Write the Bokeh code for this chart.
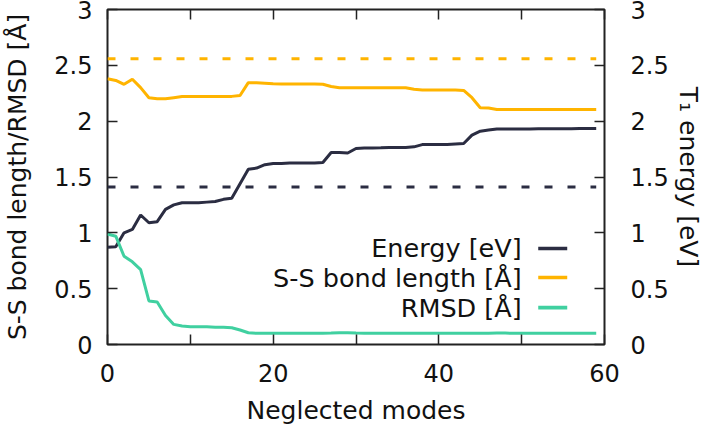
from bokeh.plotting import figure
from bokeh.models import (Range1d, LinearAxis, FixedTicker, Label, BoxAnnotation,
                          NumeralTickFormatter, CustomJSTickFormatter)
from bokeh.embed import file_html
from bokeh.resources import INLINE

modes = list(range(60))
energy = [0.87, 0.875, 1.00, 1.03, 1.16, 1.09, 1.10, 1.21, 1.25, 1.27,
          1.27, 1.27, 1.275, 1.28, 1.30, 1.31, 1.44, 1.57, 1.58, 1.61,
          1.62, 1.62, 1.625, 1.625, 1.625, 1.625, 1.63, 1.72, 1.72, 1.715,
          1.755, 1.76, 1.76, 1.762, 1.765, 1.765, 1.765, 1.77, 1.79, 1.79,
          1.79, 1.79, 1.795, 1.80, 1.875, 1.91, 1.92, 1.93, 1.93, 1.93,
          1.93, 1.93, 1.932, 1.932, 1.932, 1.933, 1.933, 1.935, 1.935, 1.935]
bond = [2.38, 2.365, 2.33, 2.375, 2.30, 2.21, 2.20, 2.20, 2.21, 2.22,
        2.22, 2.22, 2.22, 2.22, 2.22, 2.222, 2.23, 2.345, 2.345, 2.34,
        2.335, 2.333, 2.333, 2.333, 2.333, 2.333, 2.33, 2.31, 2.30, 2.30,
        2.30, 2.30, 2.30, 2.30, 2.30, 2.30, 2.30, 2.285, 2.28, 2.28,
        2.28, 2.28, 2.278, 2.275, 2.21, 2.12, 2.118, 2.105, 2.105, 2.105,
        2.105, 2.105, 2.105, 2.105, 2.105, 2.105, 2.105, 2.105, 2.105, 2.105]
rmsd = [0.99, 0.97, 0.79, 0.74, 0.67, 0.39, 0.38, 0.26, 0.18, 0.165,
        0.16, 0.16, 0.16, 0.155, 0.155, 0.15, 0.13, 0.105, 0.10, 0.10,
        0.10, 0.10, 0.10, 0.10, 0.10, 0.10, 0.10, 0.102, 0.105, 0.105,
        0.102, 0.10, 0.10, 0.10, 0.10, 0.10, 0.10, 0.10, 0.10, 0.10,
        0.10, 0.10, 0.10, 0.10, 0.10, 0.10, 0.10, 0.102, 0.102, 0.10,
        0.10, 0.10, 0.10, 0.10, 0.10, 0.10, 0.10, 0.10, 0.10, 0.10]
ref_energy = 1.41
ref_bond = 2.56

x_ticks = [0, 20, 40, 60]
x_minor = [10, 30, 50]
y_ticks = [0, 0.5, 1, 1.5, 2, 2.5, 3]

labels = ["Energy [eV]", "S-S bond length [Å]", "RMSD [Å]"]
legend_y = [0.86, 0.60, 0.33]

DARK = "#2b2d42"
ORANGE = "#ffb400"
GREEN = "#40d0a0"
FONT = "DejaVu Sans"
FS = "24px"
FS_LABEL = "25px"
FS_LEG = "25.5px"
TXT = "#111111"

p = figure(width=706, height=435, x_range=Range1d(0, 60), y_range=Range1d(0, 3),
           output_backend="svg", toolbar_location=None,
           min_border_left=105, min_border_right=102, min_border_top=9, min_border_bottom=91)
p.extra_y_ranges = {"energy": Range1d(0, 3)}
p.xgrid.grid_line_color = None
p.ygrid.grid_line_color = None
p.outline_line_color = "#222222"
p.outline_line_width = 2
p.background_fill_color = "white"
p.border_fill_color = "white"


def style(ax, fs=FS):
    ax.axis_line_color = None
    ax.major_tick_in = 10
    ax.major_tick_out = 0
    ax.minor_tick_in = 10
    ax.minor_tick_out = 0
    ax.major_tick_line_color = "#222222"
    ax.minor_tick_line_color = "#222222"
    ax.major_tick_line_width = 1.5
    ax.minor_tick_line_width = 1.5
    ax.major_label_text_font = FONT
    ax.major_label_text_font_size = fs
    ax.major_label_text_color = TXT
    ax.axis_label_text_font = FONT
    ax.axis_label_text_font_size = FS_LABEL
    ax.axis_label_text_font_style = "normal"
    ax.axis_label_text_color = TXT


xax = p.xaxis[0]
xax.ticker = FixedTicker(ticks=x_ticks, minor_ticks=x_minor)
style(xax)
xax.major_label_standoff = 19
xax.axis_label = "Neglected modes"
xax.axis_label_standoff = 11

top = LinearAxis(ticker=FixedTicker(ticks=x_ticks, minor_ticks=x_minor),
                 formatter=CustomJSTickFormatter(code="return '';"))
style(top, fs="1px")
top.major_label_standoff = 0
p.add_layout(top, "above")

yax = p.yaxis[0]
yax.ticker = FixedTicker(ticks=y_ticks)
yax.formatter = NumeralTickFormatter(format="0.[0]")
style(yax)
yax.major_label_standoff = 15
yax.axis_label = "S-S bond length/RMSD [Å]"
yax.axis_label_standoff = 19

right = LinearAxis(y_range_name="energy", ticker=FixedTicker(ticks=y_ticks),
                   formatter=NumeralTickFormatter(format="0.[0]"))
style(right)
right.major_label_standoff = 26
right.axis_label = "T₁ energy [eV]"
right.axis_label_standoff = 2
p.add_layout(right, "right")

p.line([modes[0], modes[-1]], [ref_bond, ref_bond], color=ORANGE, line_width=3, line_dash="8 15")
p.line([modes[0], modes[-1]], [ref_energy, ref_energy], color=DARK, line_width=3, line_dash="8 15",
       y_range_name="energy")
p.line(modes, energy, color=DARK, line_width=3, y_range_name="energy")
p.line(modes, bond, color=ORANGE, line_width=3)
p.line(modes, rmsd, color=GREEN, line_width=3)

for lab, ly, col in zip(labels, legend_y, [DARK, ORANGE, GREEN]):
    p.add_layout(Label(x=50.0, y=ly, text=lab, text_align="right", text_baseline="middle",
                       text_font=FONT, text_font_size=FS_LEG, text_color=TXT))
    p.add_layout(BoxAnnotation(left=52.0, right=55.5, bottom=ly - 0.016, top=ly + 0.016,
                               fill_color=col, fill_alpha=1, line_alpha=0))

open("out.html", "w").write(file_html(p, INLINE))
